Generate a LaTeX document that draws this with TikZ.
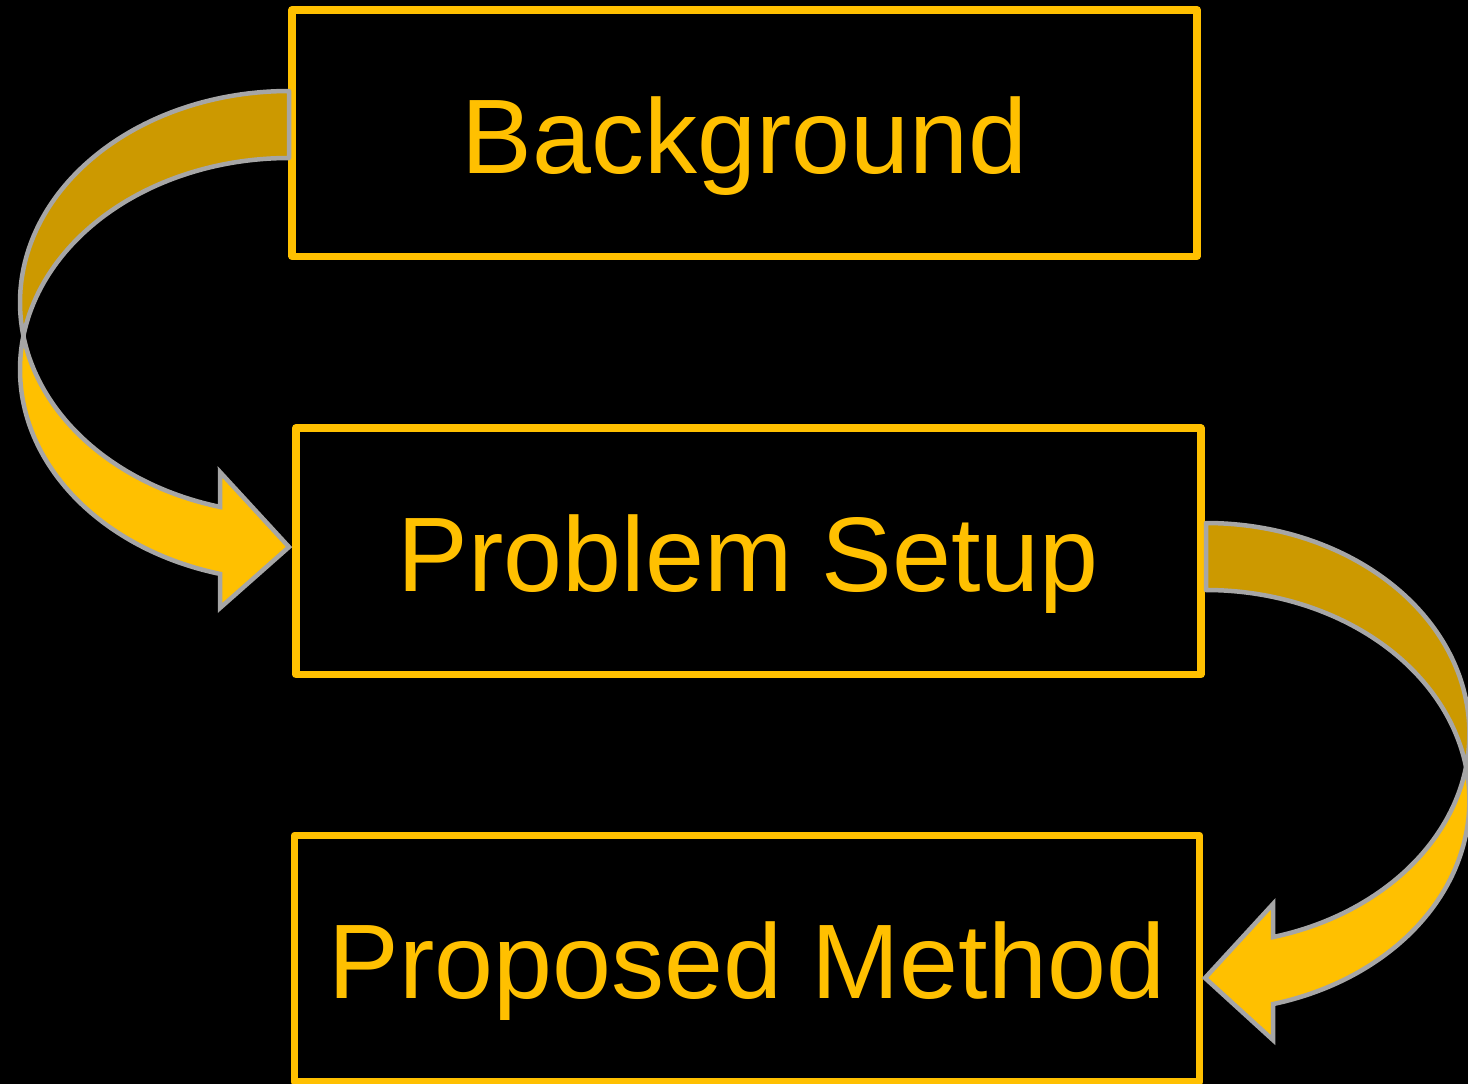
\documentclass[tikz,border=0pt]{standalone}
\usepackage{fontspec}
\setmainfont{Liberation Sans}
\definecolor{gold}{HTML}{FFC000}
\definecolor{darkgold}{HTML}{CC9900}
\definecolor{rim}{HTML}{A6A6A6}
\begin{document}
\begin{tikzpicture}[x=1pt,y=-1pt,
  stagebox/.style={draw=gold, line width=7.5pt, line join=round, inner sep=0pt,
    minimum width=905pt, minimum height=246.5pt,
    text=gold, text height=80pt, text depth=0pt,
    font=\fontsize{106}{120}\selectfont},
  backpart/.style={fill=darkgold, draw=rim, line width=4.5pt, line join=round},
  frontpart/.style={fill=gold, draw=rim, line width=4.5pt, line join=miter},
  ellipse arc/.style={samples=80}]
  % canvas
  \useasboundingbox (0,0) rectangle (1468,1084);
  \fill[black] (0,0) rectangle (1468,1084);

  % the three stages
  \node[stagebox] (bg) at (744.5,133) {Background};
  \node[stagebox] (ps) at (748.25,551.25) {Problem Setup};
  \node[stagebox] (pm) at (747,958.75) {Proposed Method};

  % curved arrow from Background to Problem Setup (left side)
  % upper rim ellipse centre (289,302.5), lower rim ellipse centre (289,369.5)
  \coordinate (ltip) at (289,547);
  \filldraw[backpart]
    plot[ellipse arc, domain=90:189.1] ({289+269*cos(\x)},{302.5-211.5*sin(\x)})
    -- plot[ellipse arc, domain=170.9:90] ({289+269*cos(\x)},{369.5-211.5*sin(\x)})
    -- cycle;
  \filldraw[frontpart]
    plot[ellipse arc, domain=170.9:255.14] ({289+269*cos(\x)},{369.5-211.5*sin(\x)})
    -- (220,608) -- (ltip) -- (220,472)
    -- plot[ellipse arc, domain=255.14:189.1] ({289+269*cos(\x)},{302.5-211.5*sin(\x)})
    -- cycle;

  % curved arrow from Problem Setup to Proposed Method (right side)
  % upper rim ellipse centre (1206,733.5), lower rim ellipse centre (1206,800.5)
  \coordinate (rtip) at (1205,978);
  \filldraw[backpart]
    plot[ellipse arc, domain=90:-9.15] ({1206+263.4*cos(\x)},{733.5-210.5*sin(\x)})
    -- plot[ellipse arc, domain=9.15:90] ({1206+263.4*cos(\x)},{800.5-210.5*sin(\x)})
    -- cycle;
  \filldraw[frontpart]
    plot[ellipse arc, domain=9.15:-75.26] ({1206+263.4*cos(\x)},{800.5-210.5*sin(\x)})
    -- (1273,1040) -- (rtip) -- (1273,904)
    -- plot[ellipse arc, domain=-75.26:-9.15] ({1206+263.4*cos(\x)},{733.5-210.5*sin(\x)})
    -- cycle;
\end{tikzpicture}
\end{document}
